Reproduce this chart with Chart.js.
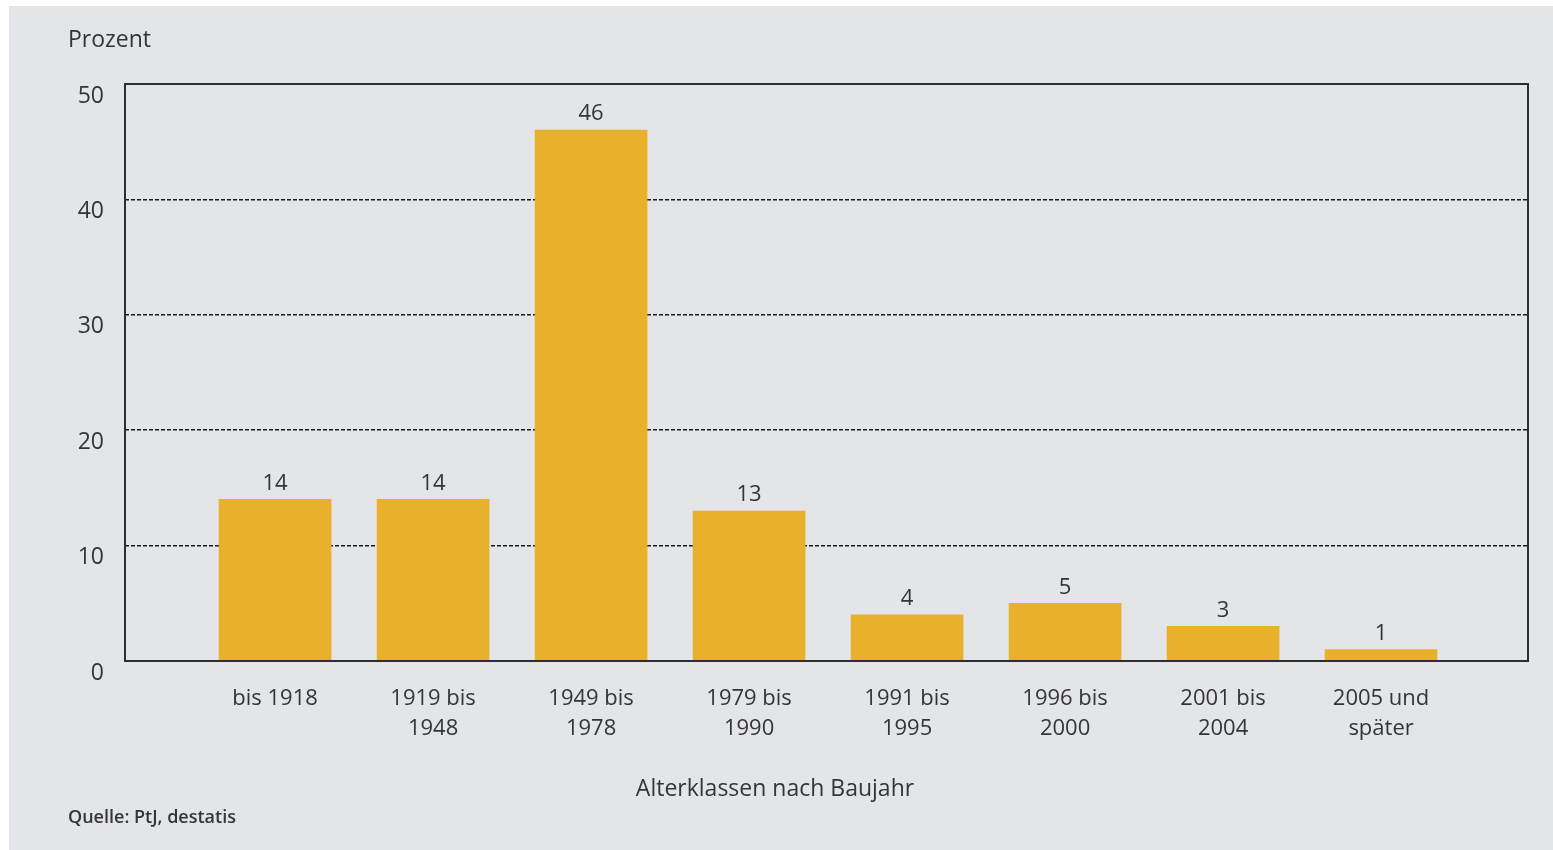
<!DOCTYPE html>
<html lang="de">
<head>
<meta charset="UTF-8">
<title>Alterklassen nach Baujahr</title>
<script src="https://cdn.jsdelivr.net/npm/chart.js"></script>
<style>
  html, body { margin: 0; padding: 0; background: #fff; }
  #bg { position: absolute; left: 9px; top: 6px; right: 0; bottom: 0; background: #e3e5e8; }
  #wrap { position: absolute; left: 0; top: 0; width: 1553px; height: 850px; }
</style>
<script>
  // Anteil der Gebäude je Altersklasse (Prozent)
  const categories = [
    ['bis 1918'], ['1919 bis', '1948'], ['1949 bis', '1978'], ['1979 bis', '1990'],
    ['1991 bis', '1995'], ['1996 bis', '2000'], ['2001 bis', '2004'], ['2005 und', 'später']
  ];
  const values = [14, 14, 46, 13, 4, 5, 3, 1];
  const yTicks = [0, 10, 20, 30, 40, 50];

  const FONT = '"Open Sans", "Noto Sans", sans-serif';
  const TEXT = '#353535';

  // Rahmen, Werte über den Balken und die freien Texte
  const decorations = {
    id: 'decorations',
    afterDatasetsDraw(chart) {
      const ctx = chart.ctx;
      const a = chart.chartArea;
      ctx.save();
      ctx.strokeStyle = '#2e2e2e';
      ctx.lineWidth = 2;
      ctx.strokeRect(a.left, a.top, a.right - a.left, a.bottom - a.top);

      ctx.fillStyle = TEXT;
      ctx.font = '22px ' + FONT;
      ctx.textAlign = 'center';
      ctx.textBaseline = 'bottom';
      chart.getDatasetMeta(0).data.forEach((bar, i) => {
        ctx.fillText(values[i], bar.x, bar.y - 5);
      });

      ctx.textBaseline = 'middle';
      ctx.font = '23px ' + FONT;
      ctx.fillText('Alterklassen nach Baujahr', 775, 789);
      ctx.textAlign = 'left';
      ctx.fillText('Prozent', 68, 40);
      ctx.font = '600 18px ' + FONT;
      ctx.fillText('Quelle: PtJ, destatis', 68, 818);
      ctx.restore();
    }
  };

  window.addEventListener('load', () => {
    const data = {
      datasets: [{
        data: values.map((v, i) => ({ x: i, y: v })),
        backgroundColor: '#e9b02c',
        borderWidth: 0,
        barThickness: 112
      }]
    };

    const config = {
      type: 'bar',
      data: data,
      options: {
        responsive: false,
        animation: false,
        layout: { padding: { top: 84, right: 25, left: 0, bottom: 0 } },
        plugins: { legend: { display: false }, tooltip: { enabled: false } },
        scales: {
          x: {
            type: 'linear',
            offset: false,
            min: -0.95,
            max: 7.93,
            afterBuildTicks: s => { s.ticks = categories.map((_, i) => ({ value: i })); },
            afterFit: s => { s.height = 850 - 661; },
            grid: { display: false, offset: false },
            border: { display: false },
            ticks: {
              callback: v => categories[v],
              color: TEXT,
              font: { family: FONT, size: 22, lineHeight: 1.4 },
              padding: 14,
              maxRotation: 0,
              autoSkip: false
            }
          },
          y: {
            min: 0,
            max: 50,
            afterBuildTicks: s => { s.ticks = yTicks.map(v => ({ value: v })); },
            afterFit: s => { s.width = 125; },
            border: { display: false, dash: [4, 2] },
            grid: { color: '#1a1a1a', lineWidth: 1.5, drawTicks: false },
            ticks: {
              color: TEXT,
              font: { family: FONT, size: 23 },
              padding: 21,
              labelOffset: 12
            }
          }
        }
      },
      plugins: [decorations]
    };

    new Chart(document.getElementById('chart'), config);
  });
</script>
</head>
<body>
  <div id="bg"></div>
  <div id="wrap">
    <canvas id="chart" width="1553" height="850"></canvas>
  </div>
</body>
</html>
